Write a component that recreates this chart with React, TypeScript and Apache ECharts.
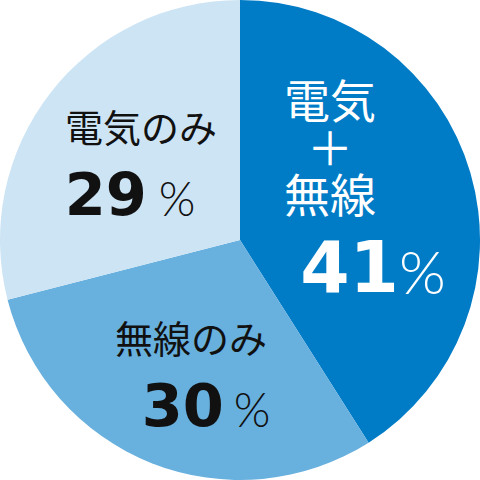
import * as echarts from 'echarts';
import React, { useEffect, useRef } from 'react';

// slice data, clockwise from 12 o'clock
const categories = ['電気\n＋\n無線', '無線のみ', '電気のみ'];
const values = [41, 30, 29];
const colors = ['#007cc7', '#68b0de', '#cde4f4'];

// label anchor (block centre) per slice
const labelCenters = [
  [330, 197],
  [191, 385],
  [141, 174],
];

const JP = '"Noto Sans CJK JP", "Noto Sans", sans-serif';
const NUM = '"DejaVu Sans", sans-serif';
const PCT = 'Lato, "Noto Sans", sans-serif';

const App: React.FC = () => {
  const chartRef = useRef<HTMLDivElement>(null);

  useEffect(() => {
    document.body.style.margin = '0';
    const myChart = echarts.init(chartRef.current!, null, { renderer: 'svg' });

    const option = {
      animation: false,
      series: [
        {
          type: 'pie',
          center: [240, 240],
          radius: '100%',
          startAngle: 90,
          clockwise: true,
          silent: true,
          itemStyle: { borderWidth: 0 },
          label: {
            show: true,
            position: 'inside',
            formatter: (p: any) => {
              const i = p.dataIndex;
              return `{jp${i}|${p.name}}\n{num${i}|${p.value}}{pct${i}|%}`;
            },
            rich: {
              jp0: { fontFamily: JP, fontSize: 46, color: '#fff', lineHeight: 47 },
              num0: {
                fontFamily: NUM, fontWeight: 'bold', fontSize: 71, color: '#fff',
                lineHeight: 105, padding: [0, 0, 0, 86],
              },
              pct0: {
                fontFamily: PCT, fontWeight: 300, fontSize: 60, color: '#fff',
                lineHeight: 105, padding: [6, 0, 0, 0],
              },
              jp1: { fontFamily: JP, fontSize: 38, color: '#111', lineHeight: 40 },
              num1: {
                fontFamily: NUM, fontWeight: 'bold', fontSize: 59, color: '#111',
                lineHeight: 98, padding: [0, 0, 0, 30],
              },
              pct1: {
                fontFamily: PCT, fontWeight: 300, fontSize: 47, color: '#111',
                lineHeight: 98, padding: [8, 0, 0, 10],
              },
              jp2: { fontFamily: JP, fontSize: 38, color: '#111', lineHeight: 40 },
              num2: {
                fontFamily: NUM, fontWeight: 'bold', fontSize: 59, color: '#111',
                lineHeight: 98,
              },
              pct2: {
                fontFamily: PCT, fontWeight: 300, fontSize: 47, color: '#111',
                lineHeight: 98, padding: [8, 22, 0, 12],
              },
            },
          },
          labelLine: { show: false },
          labelLayout: (params: any) => ({
            x: labelCenters[params.dataIndex][0],
            y: labelCenters[params.dataIndex][1],
          }),
          data: categories.map((name, i) => ({
            name,
            value: values[i],
            itemStyle: { color: colors[i] },
          })),
        },
      ],
    };

    myChart.setOption(option);

    return () => {
      myChart.dispose();
    };
  }, []);

  return <div ref={chartRef} style={{ width: '480px', height: '480px' }} />;
};

export default App;
